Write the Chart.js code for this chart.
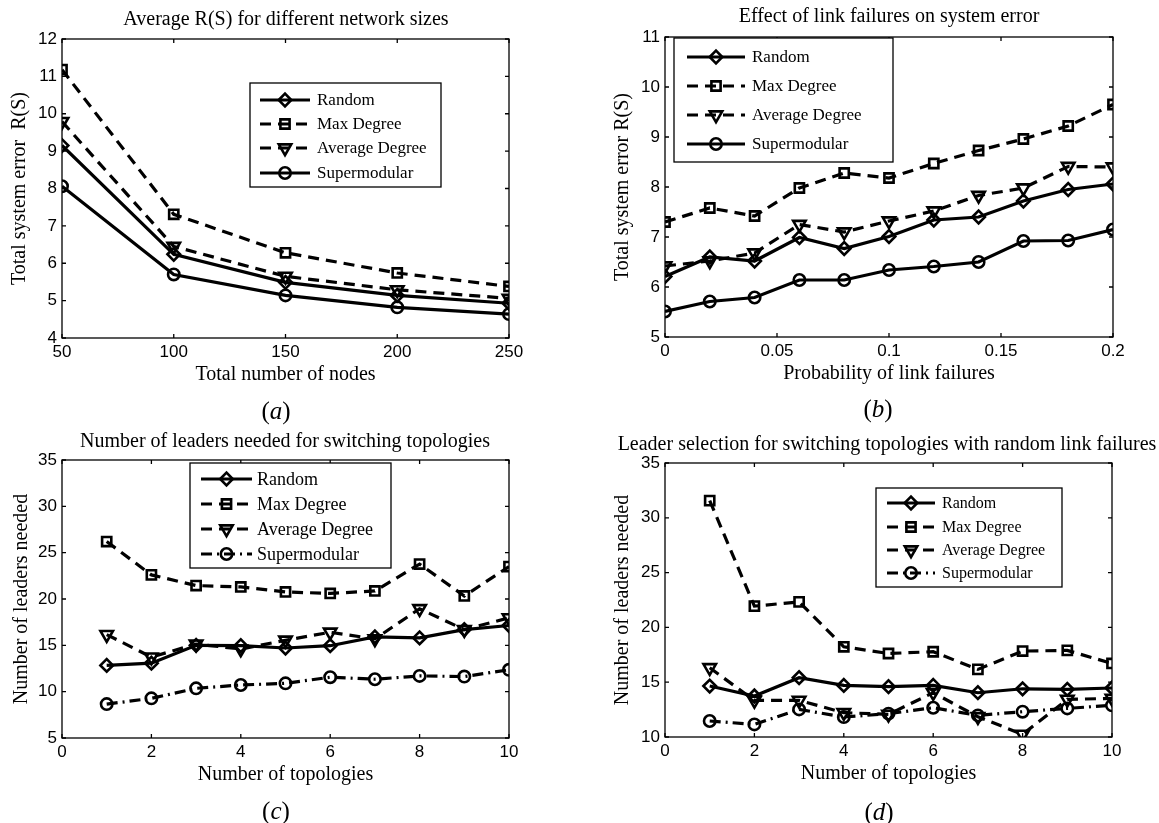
<!DOCTYPE html>
<html>
<head>
<meta charset="utf-8">
<script src="https://cdn.jsdelivr.net/npm/chart.js@4.4.0/dist/chart.umd.min.js"></script>
<style>
html,body{margin:0;padding:0;background:#fff;}
#wrap{position:relative;width:1159px;height:823px;overflow:hidden;background:#fff;}
canvas{position:absolute;left:0;top:0;}
.t{position:absolute;transform:translate(-50%,-50%);white-space:nowrap;font-family:"Liberation Serif","Times New Roman",serif;color:#000;}
.title{font-size:20px;line-height:20px;}
.cap{font-size:25px;line-height:25px;}
.cap i{font-style:italic;}
</style>
</head>
<body>
<div id="wrap">
<canvas id="ca" width="1159" height="823"></canvas>
<canvas id="cb" width="1159" height="823"></canvas>
<canvas id="cc" width="1159" height="823"></canvas>
<canvas id="cd" width="1159" height="823"></canvas>
<div class="t title" style="left:286px;top:18px">Average R(S) for different network sizes</div>
<div class="t title" style="left:889px;top:15px">Effect of link failures on system error</div>
<div class="t title" style="left:285px;top:440px">Number of leaders needed for switching topologies</div>
<div class="t title" style="left:887px;top:443px">Leader selection for switching topologies with random link failures</div>
<div class="t cap" style="left:276px;top:410px">(<i>a</i>)</div>
<div class="t cap" style="left:878px;top:408px">(<i>b</i>)</div>
<div class="t cap" style="left:276px;top:810px">(<i>c</i>)</div>
<div class="t cap" style="left:879px;top:811px">(<i>d</i>)</div>
</div>
<script>
// ---------- DATA ----------
const seriesNames = ['Random', 'Max Degree', 'Average Degree', 'Supermodular'];

// (a) Average R(S) for different network sizes
const nodesA   = [50, 100, 150, 200, 250];
const randomA  = [9.15, 6.24, 5.49, 5.14, 4.93];
const maxDegA  = [11.18, 7.31, 6.28, 5.74, 5.38];
const avgDegA  = [9.79, 6.45, 5.65, 5.29, 5.06];
const superA   = [8.06, 5.70, 5.14, 4.82, 4.64];
const xTicksA  = [50, 100, 150, 200, 250];
const yTicksA  = [4, 5, 6, 7, 8, 9, 10, 11, 12];

// (b) Effect of link failures on system error
const probB    = [0, 0.02, 0.04, 0.06, 0.08, 0.1, 0.12, 0.14, 0.16, 0.18, 0.2];
const randomB  = [6.21, 6.60, 6.52, 6.99, 6.77, 7.01, 7.34, 7.40, 7.72, 7.95, 8.06];
const maxDegB  = [7.30, 7.58, 7.42, 7.98, 8.28, 8.18, 8.47, 8.73, 8.96, 9.22, 9.65];
const avgDegB  = [6.42, 6.52, 6.68, 7.25, 7.10, 7.32, 7.52, 7.83, 7.98, 8.41, 8.40];
const superB   = [5.51, 5.71, 5.79, 6.14, 6.14, 6.34, 6.41, 6.50, 6.92, 6.93, 7.15];
const xTicksB  = [0, 0.05, 0.1, 0.15, 0.2];
const yTicksB  = [5, 6, 7, 8, 9, 10, 11];

// (c) Number of leaders needed for switching topologies
const topoC    = [1, 2, 3, 4, 5, 6, 7, 8, 9, 10];
const randomC  = [12.83, 13.08, 15.0, 14.96, 14.71, 14.96, 15.91, 15.8, 16.7, 17.14];
const maxDegC  = [26.2, 22.6, 21.45, 21.3, 20.76, 20.6, 20.87, 23.77, 20.33, 23.5];
const avgDegC  = [16.16, 13.73, 15.14, 14.6, 15.55, 16.41, 15.69, 18.95, 16.7, 17.97];
const superC   = [8.66, 9.28, 10.36, 10.72, 10.9, 11.56, 11.34, 11.7, 11.63, 12.36];
const xTicksC  = [0, 2, 4, 6, 8, 10];
const yTicksC  = [5, 10, 15, 20, 25, 30, 35];

// (d) Leader selection for switching topologies with random link failures
const topoD    = [1, 2, 3, 4, 5, 6, 7, 8, 9, 10];
const randomD  = [14.65, 13.74, 15.41, 14.71, 14.59, 14.71, 14.04, 14.40, 14.35, 14.47];
const maxDegD  = [31.57, 21.94, 22.33, 18.23, 17.62, 17.78, 16.17, 17.84, 17.9, 16.71];
const avgDegD  = [16.32, 13.34, 13.34, 12.22, 12.07, 14.04, 11.85, 10.24, 13.43, 13.52];
const superD   = [11.46, 11.15, 12.52, 11.82, 12.13, 12.67, 11.97, 12.31, 12.61, 12.89];
const xTicksD  = [0, 2, 4, 6, 8, 10];
const yTicksD  = [10, 15, 20, 25, 30, 35];

// ---------- STYLE ----------
const W = 1159, H = 823;
const pointStyles = ['rectRot', 'rect', 'triangle', 'circle'];
const pointRots   = [0, 0, 180, 0];
const pointRadii  = [6.3, 6.5, 7.2, 5.7];
const DASH = [11, 7];
const DASHDOT = [11, 5, 2, 5];

function drawMarker(ctx, style, x, y, r, rotDeg) {
  ctx.beginPath();
  if (style === 'circle') {
    ctx.arc(x, y, r, 0, Math.PI * 2);
  } else if (style === 'rect') {
    const s = r * Math.SQRT1_2;
    ctx.rect(x - s, y - s, 2 * s, 2 * s);
  } else if (style === 'rectRot') {
    ctx.moveTo(x - r, y); ctx.lineTo(x, y - r); ctx.lineTo(x + r, y); ctx.lineTo(x, y + r); ctx.closePath();
  } else if (style === 'triangle') {
    let a = rotDeg * Math.PI / 180;
    ctx.moveTo(x + Math.sin(a) * r, y - Math.cos(a) * r);
    a += 2 * Math.PI / 3; ctx.lineTo(x + Math.sin(a) * r, y - Math.cos(a) * r);
    a += 2 * Math.PI / 3; ctx.lineTo(x + Math.sin(a) * r, y - Math.cos(a) * r);
    ctx.closePath();
  }
  ctx.stroke();
}

const matlabAxes = {
  id: 'matlabAxes',
  afterDraw(chart, args, opts) {
    const ctx = chart.ctx;
    const a = chart.chartArea;
    const xs = chart.scales.x, ys = chart.scales.y;
    ctx.save();
    ctx.strokeStyle = '#000';
    ctx.lineWidth = 1.3;
    ctx.setLineDash([]);
    // inward ticks on all four sides
    const tl = 4;
    ctx.beginPath();
    xs.ticks.forEach(t => {
      const px = xs.getPixelForValue(t.value);
      ctx.moveTo(px, a.bottom); ctx.lineTo(px, a.bottom - tl);
      ctx.moveTo(px, a.top); ctx.lineTo(px, a.top + tl);
    });
    ys.ticks.forEach(t => {
      const py = ys.getPixelForValue(t.value);
      ctx.moveTo(a.left, py); ctx.lineTo(a.left + tl, py);
      ctx.moveTo(a.right, py); ctx.lineTo(a.right - tl, py);
    });
    ctx.stroke();
    ctx.strokeRect(a.left, a.top, a.right - a.left, a.bottom - a.top);

    // legend box inside the axes
    const lg = opts.legend;
    if (lg) {
      const [x1, y1, x2, y2] = lg.box;
      ctx.fillStyle = '#fff';
      ctx.fillRect(x1, y1, x2 - x1, y2 - y1);
      ctx.lineWidth = 1.3;
      ctx.strokeRect(x1, y1, x2 - x1, y2 - y1);
      chart.data.datasets.forEach((ds, i) => {
        const yy = lg.rows[i];
        ctx.strokeStyle = '#000';
        ctx.lineWidth = ds.borderWidth;
        ctx.setLineDash(ds.borderDash || []);
        ctx.beginPath();
        ctx.moveTo(lg.sample[0], yy); ctx.lineTo(lg.sample[1], yy);
        ctx.stroke();
        ctx.setLineDash([]);
        ctx.lineWidth = ds.pointBorderWidth;
        drawMarker(ctx, ds.pointStyle, (lg.sample[0] + lg.sample[1]) / 2, yy, ds.pointRadius, ds.pointRotation);
        ctx.fillStyle = '#000';
        ctx.font = lg.fontSize + 'px "Liberation Serif", "Times New Roman", serif';
        ctx.textBaseline = 'middle';
        ctx.textAlign = 'left';
        ctx.fillText(ds.label, lg.textX, yy + 1);
      });
    }
    ctx.restore();
  }
};

function makeChart(id, cfg) {
  const datasets = cfg.series.map((vals, i) => ({
    label: seriesNames[i],
    data: cfg.x.map((xv, j) => ({ x: xv, y: vals[j] })),
    borderColor: '#000',
    borderWidth: 3.2,
    borderDash: cfg.dashes[i],
    pointStyle: pointStyles[i],
    pointRotation: pointRots[i],
    pointRadius: pointRadii[i],
    pointBorderWidth: 2.6,
    pointBorderColor: '#000',
    pointBackgroundColor: 'rgba(0,0,0,0)',
    fill: false,
    tension: 0
  }));
  const r = cfg.rect; // [left, top, right, bottom]
  const padLeft = cfg.yTitleX - 12 - 8;
  return new Chart(document.getElementById(id), {
    type: 'line',
    data: { datasets },
    plugins: [matlabAxes],
    options: {
      responsive: false,
      maintainAspectRatio: false,
      animation: false,
      layout: { padding: { left: padLeft, top: r[1], right: W - r[2], bottom: H - r[3] - 49 } },
      plugins: {
        legend: { display: false },
        title: { display: false },
        tooltip: { enabled: false },
        matlabAxes: { legend: cfg.legend }
      },
      scales: {
        x: {
          type: 'linear',
          min: cfg.xTicks[0], max: cfg.xTicks[cfg.xTicks.length - 1],
          afterBuildTicks: s => { s.ticks = cfg.xTicks.map(v => ({ value: v })); },
          afterFit: s => { s.height = 49; },
          grid: { display: false, drawTicks: false },
          border: { display: false },
          ticks: { padding: 4, color: '#000', maxRotation: 0, autoSkip: false,
                   font: { family: 'Liberation Sans', size: 17 }, callback: v => String(v) },
          title: { display: true, text: cfg.xTitle, color: '#000',
                   font: { family: 'Liberation Serif', size: 20 }, padding: { top: 0, bottom: 0 } }
        },
        y: {
          type: 'linear',
          min: cfg.yTicks[0], max: cfg.yTicks[cfg.yTicks.length - 1],
          afterBuildTicks: s => { s.ticks = cfg.yTicks.map(v => ({ value: v })); },
          afterFit: s => { s.width = r[0] - padLeft; },
          grid: { display: false, drawTicks: false },
          border: { display: false },
          ticks: { padding: 5, color: '#000', autoSkip: false,
                   font: { family: 'Liberation Sans', size: 17 }, callback: v => String(v) },
          title: { display: true, text: cfg.yTitle, color: '#000',
                   font: { family: 'Liberation Serif', size: 20 }, padding: { top: 8, bottom: 0 } }
        }
      }
    }
  });
}

makeChart('ca', {
  x: nodesA, series: [randomA, maxDegA, avgDegA, superA],
  dashes: [[], DASH, DASH, []],
  xTicks: xTicksA, yTicks: yTicksA,
  rect: [62, 39, 509, 338], yTitleX: 20,
  xTitle: 'Total number of nodes', yTitle: 'Total system error  R(S)',
  legend: { box: [250, 83, 441, 187], rows: [100, 124, 148, 173], sample: [260, 310], textX: 317, fontSize: 17 }
});
makeChart('cb', {
  x: probB, series: [randomB, maxDegB, avgDegB, superB],
  dashes: [[], DASH, DASH, []],
  xTicks: xTicksB, yTicks: yTicksB,
  rect: [665, 37, 1113, 337], yTitleX: 623,
  xTitle: 'Probability of link failures', yTitle: 'Total system error R(S)',
  legend: { box: [674, 38, 893, 162], rows: [57, 86, 115, 144], sample: [687, 745], textX: 752, fontSize: 17 }
});
makeChart('cc', {
  x: topoC, series: [randomC, maxDegC, avgDegC, superC],
  dashes: [[], DASH, DASH, DASHDOT],
  xTicks: xTicksC, yTicks: yTicksC,
  rect: [62, 460, 509, 738], yTitleX: 22,
  xTitle: 'Number of topologies', yTitle: 'Number of leaders needed',
  legend: { box: [190, 463, 391, 568], rows: [479, 504, 529, 554], sample: [201, 252], textX: 257, fontSize: 18 }
});
makeChart('cd', {
  x: topoD, series: [randomD, maxDegD, avgDegD, superD],
  dashes: [[], DASH, DASH, DASHDOT],
  xTicks: xTicksD, yTicks: yTicksD,
  rect: [665, 463, 1112, 737], yTitleX: 623,
  xTitle: 'Number of topologies', yTitle: 'Number of leaders needed',
  legend: { box: [876, 488, 1062, 587], rows: [503, 527, 550, 573], sample: [887, 935], textX: 942, fontSize: 16 }
});
</script>
</body>
</html>
